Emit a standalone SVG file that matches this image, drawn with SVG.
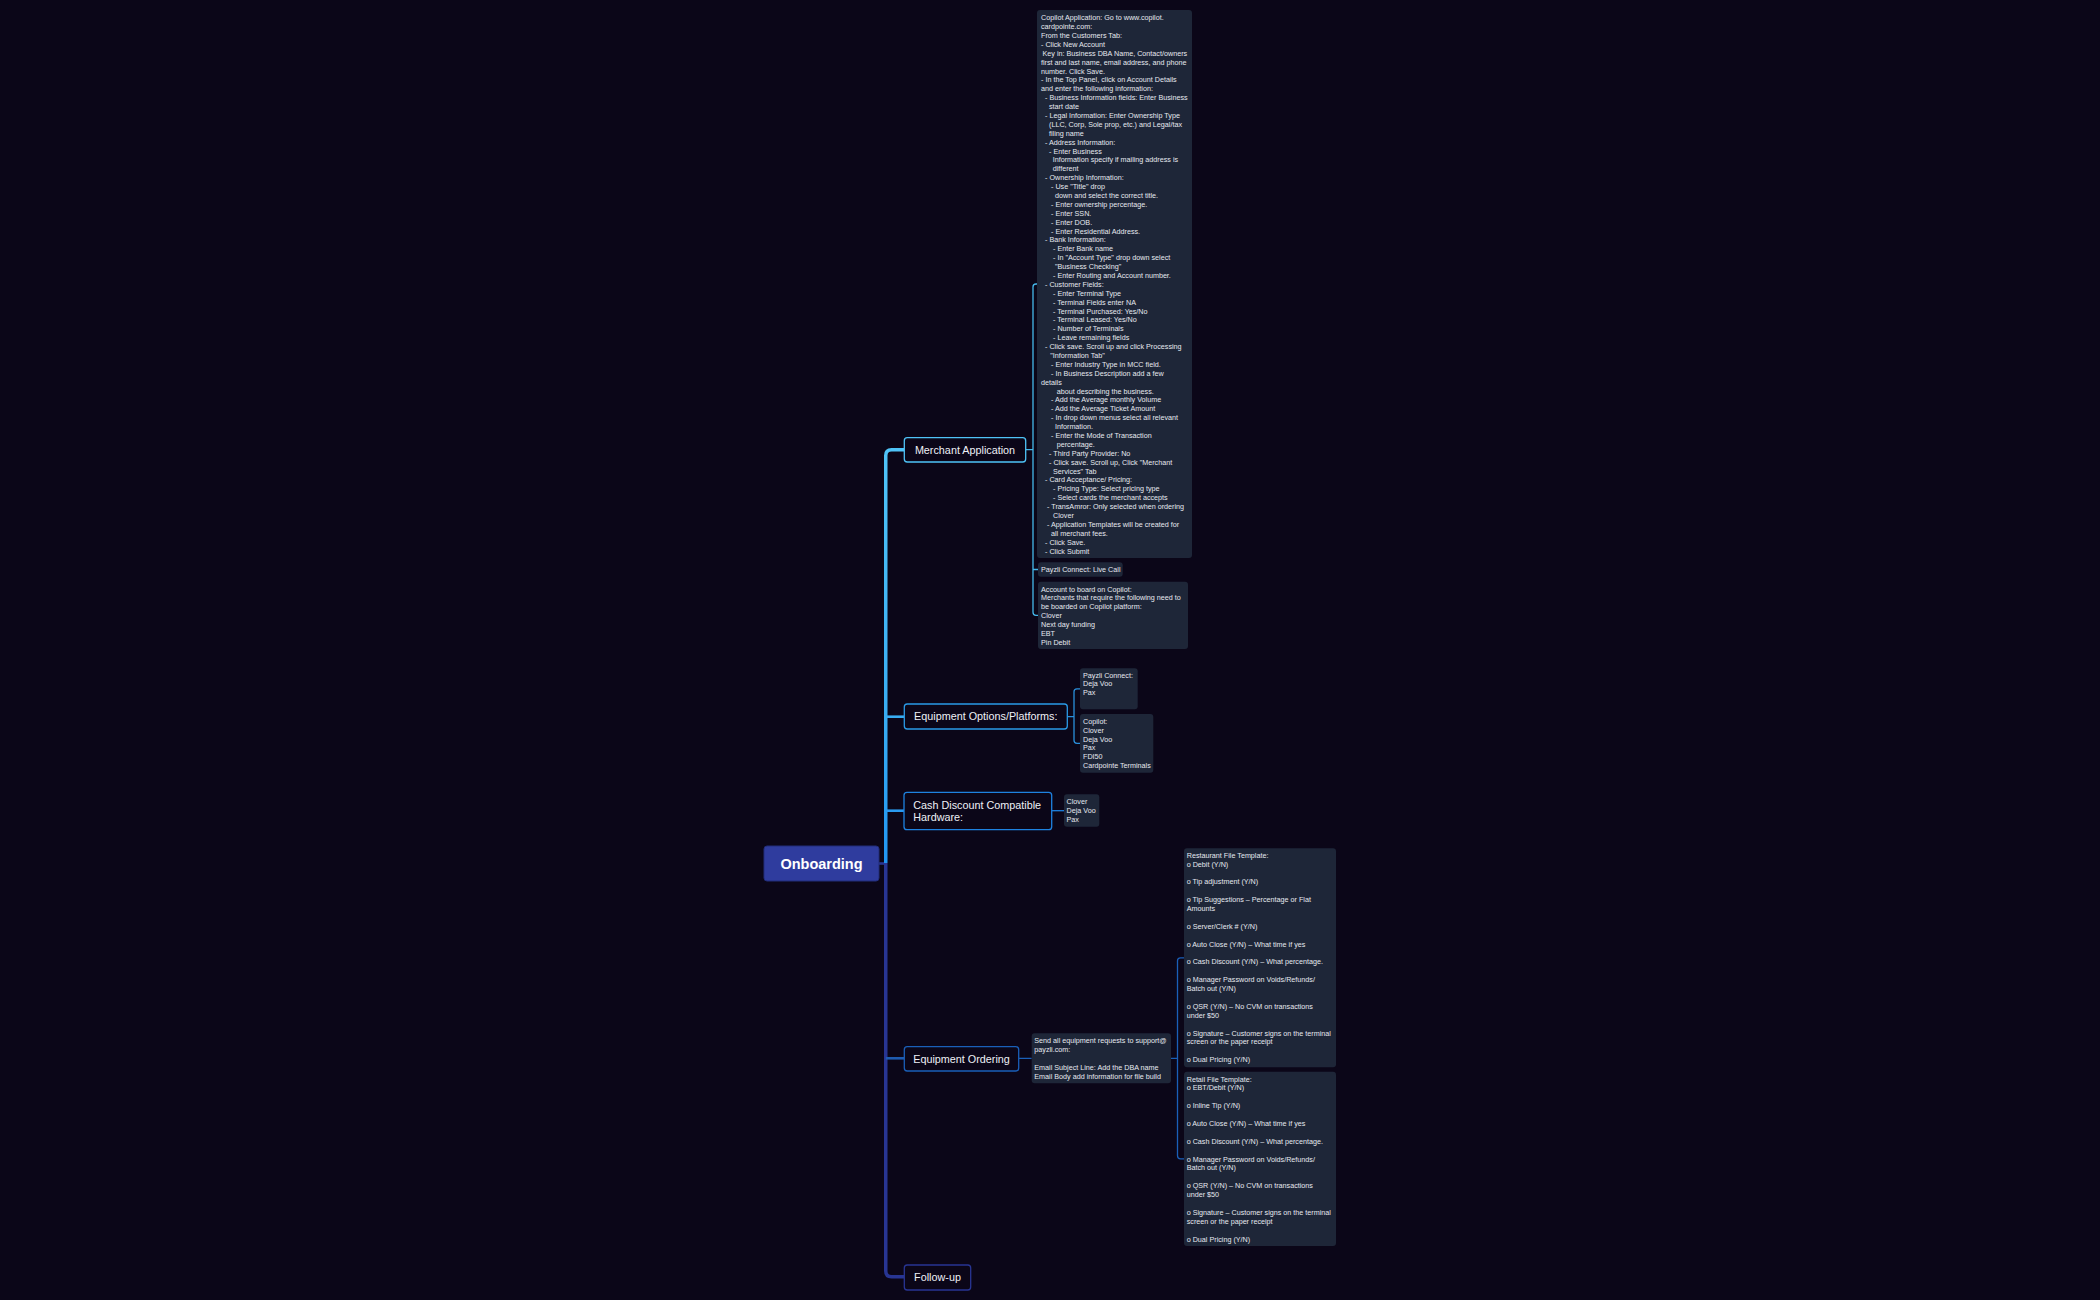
<svg xmlns="http://www.w3.org/2000/svg" width="2100" height="1300" viewBox="0 0 2100 1300">
<style>
.bg{fill:#0b0618}
.box{fill:#1e2638}
.t{font-family:"Liberation Sans",Arial,sans-serif;font-size:7.2px;fill:#e6e9f0}
.nt{font-family:"Liberation Sans",Arial,sans-serif;font-size:10.8px;fill:#eef0f6}
.node{fill:#0b0618;stroke-width:1.3}
.c{fill:none;stroke-width:1.3}
.tr{fill:none;stroke-width:3.5}
.br{fill:none;stroke-width:2.6}
</style>
<defs>
<linearGradient id="up" gradientUnits="userSpaceOnUse" x1="0" y1="450" x2="0" y2="863">
<stop offset="0" stop-color="#4fc3f7"/>
<stop offset="0.65" stop-color="#38acf2"/>
<stop offset="1" stop-color="#2196f3"/>
</linearGradient>
</defs>
<rect class="bg" x="0" y="0" width="2100" height="1300"/>

<g id="connectors">
<path class="tr" stroke="#283593" d="M885.75 863 V1271 Q885.75 1276.7 891.5 1276.7 H904"/>
<path class="br" stroke="#1e5bb0" d="M885.75 1058.3 H904"/>
<path class="br" stroke="#283593" d="M879 863.5 H886"/>
<path class="tr" stroke="url(#up)" d="M885.75 863 V455.5 Q885.75 449.75 891.5 449.75 H904"/>
<path class="br" stroke="#38acf2" d="M885.75 716.7 H904"/>
<path class="br" stroke="#2a9af0" d="M885.75 810.7 H904"/>

<path class="c" stroke="#45b8ea" d="M1026 449.7 H1033 M1038 284 H1036 Q1033 284 1033 287 V612.3 Q1033 615.3 1036 615.3 H1038 M1033 569.5 H1038"/>
<path class="c" stroke="#2a8fda" d="M1067.3 716.7 H1074 M1080 688.8 H1077 Q1074 688.8 1074 691.8 V740.3 Q1074 743.3 1077 743.3 H1080"/>
<path class="c" stroke="#1e82e0" d="M1051.7 810.7 H1064"/>
<path class="c" stroke="#1a5fb8" d="M1018.7 1058.3 H1031.7 M1171 1058.3 H1177.5 M1184 957.8 H1180.5 Q1177.5 957.8 1177.5 960.8 V1155.8 Q1177.5 1158.8 1180.5 1158.8 H1184"/>
</g>

<g id="root">
<rect x="764" y="846" width="115" height="35" rx="3" fill="#2f3c9e" stroke="#222c78" stroke-width="1"/>
<text x="821.5" y="868.5" text-anchor="middle" style="font-family:'Liberation Sans',Arial,sans-serif;font-size:14.5px;font-weight:bold;fill:#ffffff">Onboarding</text>
</g>

<g id="merchant-application">
<rect class="node" x="904.3" y="437.7" width="121.4" height="24.3" rx="3" stroke="#4fc3f7"/>
<text class="nt" x="965" y="453.8" text-anchor="middle">Merchant Application</text>
</g>

<g id="copilot-steps">
<rect class="box" x="1037" y="10" width="155" height="548" rx="3"/>
<text class="t">
<tspan x="1041" y="20.2">Copilot Application: Go to www.copilot.</tspan>
<tspan x="1041" dy="8.89">cardpointe.com:</tspan>
<tspan x="1041" dy="8.89">From the Customers Tab:</tspan>
<tspan x="1041" dy="8.89">- Click New Account</tspan>
<tspan x="1042.5" dy="8.89">Key in: Business DBA Name, Contact/owners</tspan>
<tspan x="1041" dy="8.89">first and last name, email address, and phone</tspan>
<tspan x="1041" dy="8.89">number. Click Save.</tspan>
<tspan x="1041" dy="8.89">- In the Top Panel, click on Account Details</tspan>
<tspan x="1041" dy="8.89">and enter the following information:</tspan>
<tspan x="1045" dy="8.89">- Business Information fields: Enter Business</tspan>
<tspan x="1049" dy="8.89">start date</tspan>
<tspan x="1045" dy="8.89">- Legal Information: Enter Ownership Type</tspan>
<tspan x="1049" dy="8.89">(LLC, Corp, Sole prop, etc.) and Legal/tax</tspan>
<tspan x="1049" dy="8.89">filing name</tspan>
<tspan x="1045" dy="8.89">- Address Information:</tspan>
<tspan x="1049" dy="8.89">- Enter Business</tspan>
<tspan x="1052.7" dy="8.89">Information specify if mailing address is</tspan>
<tspan x="1052.7" dy="8.89">different</tspan>
<tspan x="1045" dy="8.89">- Ownership Information:</tspan>
<tspan x="1051" dy="8.89">- Use "Title" drop</tspan>
<tspan x="1055" dy="8.89">down and select the correct title.</tspan>
<tspan x="1051" dy="8.89">- Enter ownership percentage.</tspan>
<tspan x="1051" dy="8.89">- Enter SSN.</tspan>
<tspan x="1051" dy="8.89">- Enter DOB.</tspan>
<tspan x="1051" dy="8.89">- Enter Residential Address.</tspan>
<tspan x="1045" dy="8.89">- Bank Information:</tspan>
<tspan x="1053" dy="8.89">- Enter Bank name</tspan>
<tspan x="1053" dy="8.89">- In "Account Type" drop down select</tspan>
<tspan x="1055" dy="8.89">"Business Checking"</tspan>
<tspan x="1053" dy="8.89">- Enter Routing and Account number.</tspan>
<tspan x="1045" dy="8.89">- Customer Fields:</tspan>
<tspan x="1053" dy="8.89">- Enter Terminal Type</tspan>
<tspan x="1053" dy="8.89">- Terminal Fields enter NA</tspan>
<tspan x="1053" dy="8.89">- Terminal Purchased: Yes/No</tspan>
<tspan x="1053" dy="8.89">- Terminal Leased: Yes/No</tspan>
<tspan x="1053" dy="8.89">- Number of Terminals</tspan>
<tspan x="1053" dy="8.89">- Leave remaining fields</tspan>
<tspan x="1045" dy="8.89">- Click save. Scroll up and click Processing</tspan>
<tspan x="1050.3" dy="8.89">"Information Tab"</tspan>
<tspan x="1051" dy="8.89">- Enter Industry Type in MCC field.</tspan>
<tspan x="1051" dy="8.89">- In Business Description add a few</tspan>
<tspan x="1041" dy="8.89">details</tspan>
<tspan x="1056.7" dy="8.89">about describing the business.</tspan>
<tspan x="1051" dy="8.89">- Add the Average monthly Volume</tspan>
<tspan x="1051" dy="8.89">- Add the Average Ticket Amount</tspan>
<tspan x="1051" dy="8.89">- In drop down menus select all relevant</tspan>
<tspan x="1055" dy="8.89">Information.</tspan>
<tspan x="1051" dy="8.89">- Enter the Mode of Transaction</tspan>
<tspan x="1056.7" dy="8.89">percentage.</tspan>
<tspan x="1049" dy="8.89">- Third Party Provider: No</tspan>
<tspan x="1049" dy="8.89">- Click save. Scroll up, Click "Merchant</tspan>
<tspan x="1053" dy="8.89">Services" Tab</tspan>
<tspan x="1045" dy="8.89">- Card Acceptance/ Pricing:</tspan>
<tspan x="1053" dy="8.89">- Pricing Type: Select pricing type</tspan>
<tspan x="1053" dy="8.89">- Select cards the merchant accepts</tspan>
<tspan x="1047" dy="8.89">- TransAmror: Only selected when ordering</tspan>
<tspan x="1053" dy="8.89">Clover</tspan>
<tspan x="1047" dy="8.89">- Application Templates will be created for</tspan>
<tspan x="1051" dy="8.89">all merchant fees.</tspan>
<tspan x="1045" dy="8.89">- Click Save.</tspan>
<tspan x="1045" dy="8.89">- Click Submit</tspan>
</text>
</g>

<g id="payzli-live-call">
<rect class="box" x="1038" y="562.3" width="84.7" height="14.4" rx="3"/>
<text class="t" x="1041" y="572">Payzli Connect: Live Call</text>
</g>

<g id="account-copilot">
<rect class="box" x="1038" y="581.7" width="150" height="67.3" rx="3"/>
<text class="t">
<tspan x="1041" y="591.5">Account to board on Copilot:</tspan>
<tspan x="1041" dy="8.89">Merchants that require the following need to</tspan>
<tspan x="1041" dy="8.89">be boarded on Copilot platform:</tspan>
<tspan x="1041" dy="8.89">Clover</tspan>
<tspan x="1041" dy="8.89">Next day funding</tspan>
<tspan x="1041" dy="8.89">EBT</tspan>
<tspan x="1041" dy="8.89">Pin Debit</tspan>
</text>
</g>

<g id="equipment-options">
<rect class="node" x="904.3" y="704" width="163" height="25" rx="3" stroke="#2a9ae6"/>
<text class="nt" x="985.8" y="720.3" text-anchor="middle">Equipment Options/Platforms:</text>
</g>

<g id="payzli-connect-devices">
<rect class="box" x="1080" y="668.3" width="57.7" height="41" rx="3"/>
<text class="t">
<tspan x="1083" y="677.5">Payzli Connect:</tspan>
<tspan x="1083" dy="8.89">Deja Voo</tspan>
<tspan x="1083" dy="8.89">Pax</tspan>
</text>
</g>

<g id="copilot-devices">
<rect class="box" x="1080" y="714" width="73.3" height="58.7" rx="3"/>
<text class="t">
<tspan x="1083" y="724">Copilot:</tspan>
<tspan x="1083" dy="8.75">Clover</tspan>
<tspan x="1083" dy="8.75">Deja Voo</tspan>
<tspan x="1083" dy="8.75">Pax</tspan>
<tspan x="1083" dy="8.75">FDI50</tspan>
<tspan x="1083" dy="8.75">Cardpointe Terminals</tspan>
</text>
</g>

<g id="cash-discount">
<rect class="node" x="904" y="792.3" width="147.7" height="37.4" rx="3" stroke="#1e82e0"/>
<text class="nt">
<tspan x="913.3" y="808.8">Cash Discount Compatible</tspan>
<tspan x="913.3" dy="12.4">Hardware:</tspan>
</text>
</g>

<g id="cash-discount-devices">
<rect class="box" x="1064" y="794.3" width="35.3" height="32.4" rx="3"/>
<text class="t">
<tspan x="1066.5" y="804.2">Clover</tspan>
<tspan x="1066.5" dy="8.89">Deja Voo</tspan>
<tspan x="1066.5" dy="8.89">Pax</tspan>
</text>
</g>

<g id="equipment-ordering">
<rect class="node" x="904.3" y="1046.7" width="114.4" height="24.3" rx="3" stroke="#1a5fb8"/>
<text class="nt" x="961.5" y="1062.6" text-anchor="middle">Equipment Ordering</text>
</g>

<g id="send-requests">
<rect class="box" x="1031.7" y="1033.3" width="139.3" height="50" rx="3"/>
<text class="t">
<tspan x="1034.3" y="1043.2">Send all equipment requests to support@</tspan>
<tspan x="1034.3" dy="8.89">payzli.com:</tspan>
<tspan x="1034.3" dy="17.78">Email Subject Line: Add the DBA name</tspan>
<tspan x="1034.3" dy="8.89">Email Body add information for file build</tspan>
</text>
</g>

<g id="restaurant-template">
<rect class="box" x="1184" y="848.3" width="152" height="219" rx="3"/>
<text class="t">
<tspan x="1186.7" y="857.8">Restaurant File Template:</tspan>
<tspan x="1186.7" dy="8.89">o Debit (Y/N)</tspan>
<tspan x="1186.7" dy="17.78">o Tip adjustment (Y/N)</tspan>
<tspan x="1186.7" dy="17.78">o Tip Suggestions – Percentage or Flat</tspan>
<tspan x="1186.7" dy="8.89">Amounts</tspan>
<tspan x="1186.7" dy="17.78">o Server/Clerk # (Y/N)</tspan>
<tspan x="1186.7" dy="17.78">o Auto Close (Y/N) – What time if yes</tspan>
<tspan x="1186.7" dy="17.78">o Cash Discount (Y/N) – What percentage.</tspan>
<tspan x="1186.7" dy="17.78">o Manager Password on Voids/Refunds/</tspan>
<tspan x="1186.7" dy="8.89">Batch out (Y/N)</tspan>
<tspan x="1186.7" dy="17.78">o QSR (Y/N) – No CVM on transactions</tspan>
<tspan x="1186.7" dy="8.89">under $50</tspan>
<tspan x="1186.7" dy="17.78">o Signature – Customer signs on the terminal</tspan>
<tspan x="1186.7" dy="8.89">screen or the paper receipt</tspan>
<tspan x="1186.7" dy="17.78">o Dual Pricing (Y/N)</tspan>
</text>
</g>

<g id="retail-template">
<rect class="box" x="1184" y="1071.7" width="152" height="174.3" rx="3"/>
<text class="t">
<tspan x="1186.7" y="1081.5">Retail File Template:</tspan>
<tspan x="1186.7" dy="8.89">o EBT/Debit (Y/N)</tspan>
<tspan x="1186.7" dy="17.78">o Inline Tip (Y/N)</tspan>
<tspan x="1186.7" dy="17.78">o Auto Close (Y/N) – What time if yes</tspan>
<tspan x="1186.7" dy="17.78">o Cash Discount (Y/N) – What percentage.</tspan>
<tspan x="1186.7" dy="17.78">o Manager Password on Voids/Refunds/</tspan>
<tspan x="1186.7" dy="8.89">Batch out (Y/N)</tspan>
<tspan x="1186.7" dy="17.78">o QSR (Y/N) – No CVM on transactions</tspan>
<tspan x="1186.7" dy="8.89">under $50</tspan>
<tspan x="1186.7" dy="17.78">o Signature – Customer signs on the terminal</tspan>
<tspan x="1186.7" dy="8.89">screen or the paper receipt</tspan>
<tspan x="1186.7" dy="17.78">o Dual Pricing (Y/N)</tspan>
</text>
</g>

<g id="follow-up">
<rect class="node" x="904.3" y="1265" width="66.4" height="25" rx="3" stroke="#283593"/>
<text class="nt" x="937.5" y="1281.3" text-anchor="middle">Follow-up</text>
</g>
</svg>
